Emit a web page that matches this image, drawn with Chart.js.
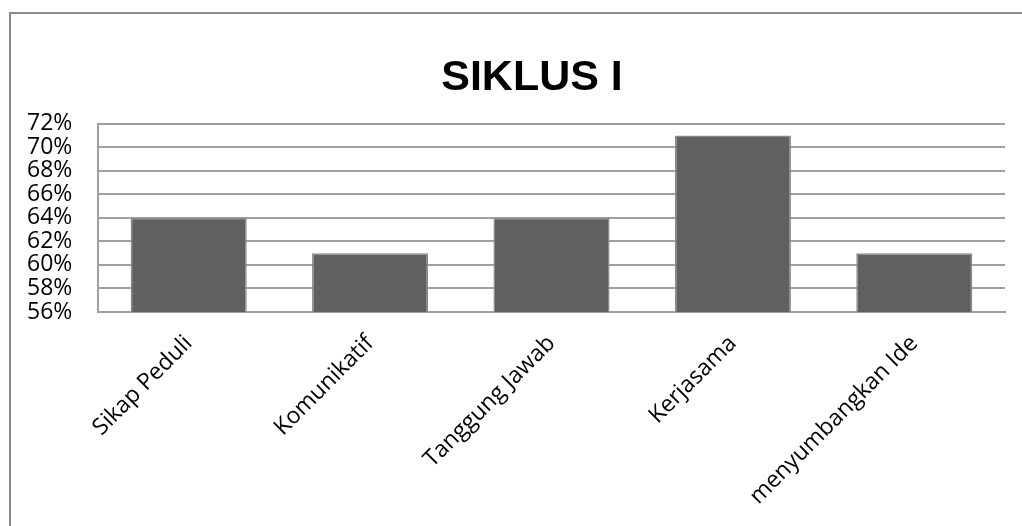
<!DOCTYPE html>
<html>
<head>
<meta charset="utf-8">
<script src="https://cdn.jsdelivr.net/npm/chart.js@4"></script>
<style>
  html, body { margin: 0; padding: 0; background: #fff; overflow: hidden; }
  .frame {
    position: absolute; left: 9px; top: 12px;
    width: 1100px; height: 600px;
    border-left: 2px solid #8c8c8c; border-top: 2px solid #8c8c8c;
  }
  .frame canvas { display: block; }
</style>
</head>
<body>
<div class="frame">
  <canvas id="chart" width="1011" height="512"></canvas>
</div>
<script>
const categories = ['Sikap Peduli', 'Komunikatif', 'Tanggung Jawab', 'Kerjasama', 'menyumbangkan Ide'];
const persen = [64, 61, 64, 71, 61];
const yMin = 56, yMax = 72, yStep = 2;

const fontFamily = '"Open Sans", sans-serif';

const ctx = document.getElementById('chart').getContext('2d');
new Chart(ctx, {
  type: 'bar',
  data: {
    labels: categories,
    datasets: [{
      label: 'Siklus I',
      data: persen,
      backgroundColor: '#606060',
      borderColor: '#8a8a8a',
      borderWidth: 1.5,
      barPercentage: 0.64,
      categoryPercentage: 1
    }]
  },
  options: {
    responsive: false,
    animation: false,
    layout: { padding: { left: 48, right: 17, top: 0, bottom: 0 } },
    plugins: {
      legend: { display: false },
      tooltip: { enabled: false },
      title: {
        display: true,
        text: 'SIKLUS I',
        color: '#000',
        font: { family: '"Liberation Sans", Arial, sans-serif', size: 43, weight: 'bold', lineHeight: 1.2 },
        padding: { top: 38, bottom: 20 }
      }
    },
    scales: {
      x: {
        grid: { display: false, drawTicks: false },
        border: { display: true, color: '#a0a0a0', width: 2 },
        ticks: {
          color: '#000',
          font: { family: fontFamily, size: 23 },
          minRotation: 45,
          maxRotation: 45,
          padding: 18,
          autoSkip: false
        },
        afterFit: (scale) => { scale.height = 214; }
      },
      y: {
        min: yMin,
        max: yMax,
        grid: { color: '#a0a0a0', lineWidth: 2, drawTicks: false },
        border: { display: true, color: '#a0a0a0', width: 2 },
        ticks: {
          stepSize: yStep,
          autoSkip: false,
          color: '#000',
          font: { family: fontFamily, size: 23, lineHeight: 0.9 },
          // labels sit left of the axis box, so draw them unclipped
          mirror: true,
          crossAlign: 'near',
          padding: -71,
          callback: (v) => v + '%'
        },
        afterFit: (scale) => { scale.width = 39; }
      }
    }
  }
});
</script>
</body>
</html>
